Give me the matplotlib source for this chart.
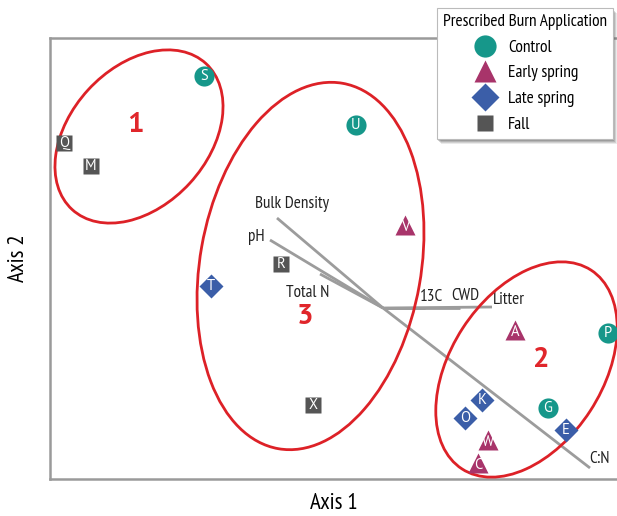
import matplotlib
matplotlib.use("Agg")
import matplotlib.pyplot as plt
from matplotlib.patches import Ellipse, Rectangle
from matplotlib.lines import Line2D

plt.rcParams['font.family'] = ['PT Sans Narrow', 'DejaVu Sans']

# Site scores on the two ordination axes (plot units)
sites = ["S", "Q", "M", "U", "V", "R", "T", "X", "A", "P", "K", "O", "G", "E", "W", "C"]
axis1 = [154, 14, 41, 306, 355, 231, 161, 263, 465, 558, 432, 415, 498, 516, 438, 428]
axis2 = [403, 336, 313, 354, 254, 215, 193, 74, 149, 146, 79, 61, 71, 49, 39, 16]
treatment = ["Control", "Fall", "Fall", "Control", "Early spring", "Fall", "Late spring", "Fall",
             "Early spring", "Control", "Late spring", "Late spring", "Control", "Late spring",
             "Early spring", "Early spring"]

treatments = ["Control", "Early spring", "Late spring", "Fall"]
colors = {"Control": "#16978a", "Early spring": "#a8346a", "Late spring": "#3b5ea8", "Fall": "#555555"}
markers = {"Control": "o", "Early spring": "^", "Late spring": "D", "Fall": "s"}
msizes = {"Control": 14.5, "Early spring": 14.5, "Late spring": 12.5, "Fall": 11.5}
leg_sizes = {"Control": 16, "Early spring": 16, "Late spring": 14, "Fall": 11.5}

# Cluster ellipses: center x, center y, major, minor, angle
clusters = ["1", "2", "3"]
ell_cx = [89, 476.5, 260.5]
ell_cy = [342.5, 109.5, 213]
ell_w = [198, 237, 371]
ell_h = [138, 152, 221]
ell_ang = [47.5, 57, 80]
clabel_x = [85, 491, 255]
clabel_y = [354, 119, 162]

# Environmental vectors (origin and tips)
origin = (333, 171)
vec_names = ["Bulk Density", "pH", "Total N", "13C", "CWD", "Litter", "C:N"]
vec_x = [227, 220, 270, 375, 410, 442, 540]
vec_y = [261, 239, 205, 171, 171, 172, 11]
vlab_x = [242, 206, 258, 382, 415, 443, 550]
vlab_y = [275, 242, 186, 182, 183, 179, 20]
vlab_ha = ["center", "center", "center", "center", "center", "left", "center"]

W, H = 617, 516
fig = plt.figure(figsize=(W / 100, H / 100), dpi=100)
ax = fig.add_axes([50 / W, 37 / H, 567 / W, 441 / H])
ax.set_xlim(0, 567)
ax.set_ylim(0, 441)
ax.set_xticks([])
ax.set_yticks([])
for side in ["left", "top", "bottom"]:
    ax.spines[side].set_color("#9a9a9a")
    ax.spines[side].set_linewidth(1.8)
ax.spines["right"].set_visible(False)

# vectors
for vx, vy, name, lx, ly, ha in zip(vec_x, vec_y, vec_names, vlab_x, vlab_y, vlab_ha):
    ax.plot([origin[0], vx], [origin[1], vy], color="#9c9c9c", lw=2, solid_capstyle="butt", zorder=2)
    ax.text(lx, ly, name, ha=ha, va="center", fontsize=12.3, color="#222222", zorder=3)

# ellipses
for cx, cy, w, h, a, lab, lx, ly in zip(ell_cx, ell_cy, ell_w, ell_h, ell_ang, clusters, clabel_x, clabel_y):
    ax.add_patch(Ellipse((cx, cy), w, h, angle=a, fill=False, ec="#dd2127", lw=2, zorder=4))
    ax.text(lx, ly, lab, ha="center", va="center", fontsize=21, fontweight="bold",
            color="#e0262b", family=["PT Sans", "DejaVu Sans"], zorder=5)

# site points
for name, x, y, t in zip(sites, axis1, axis2, treatment):
    ax.plot(x, y, marker=markers[t], ms=msizes[t], color=colors[t], mec="none",
            linestyle="none", zorder=6, clip_on=False)
    dy = -2 if t == "Early spring" else 0
    ax.text(x, y + dy, name, ha="center", va="center", fontsize=10.5, color="white",
            family=["PT Sans", "DejaVu Sans"], zorder=7)

ax.set_xlabel("Axis 1", fontsize=16.5, labelpad=10)
ax.set_ylabel("Axis 2", fontsize=16.5, labelpad=15)

handles = [Line2D([], [], marker=markers[t], color=colors[t], mec="none", linestyle="none",
                  ms=leg_sizes[t]) for t in treatments]
leg = fig.legend(handles, treatments, title="Prescribed Burn Application",
                 loc="upper right", bbox_to_anchor=(613 / W, 1 - 8 / H), borderaxespad=0,
                 frameon=True, fancybox=False, shadow=False, framealpha=1.0, fontsize=12.5,
                 title_fontsize=12.4, handletextpad=0.5, labelspacing=0.55,
                 borderpad=0.35, handlelength=1.6)
leg.get_frame().set_edgecolor("#bbbbbb")
leg.get_frame().set_facecolor("white")
leg.get_frame().set_linewidth(0.8)
leg.set_zorder(10)

# soft drop shadow behind the legend box
fig.canvas.draw()
bb = leg.get_window_extent()
for i, off in enumerate([5, 4, 3, 2]):
    fig.add_artist(Rectangle((bb.x0 + off - 1, bb.y0 - off), bb.width, bb.height,
                             transform=None, facecolor="#555555", edgecolor="none",
                             alpha=0.12 + 0.05 * i, zorder=9))

fig.savefig("out.png", dpi=100)
